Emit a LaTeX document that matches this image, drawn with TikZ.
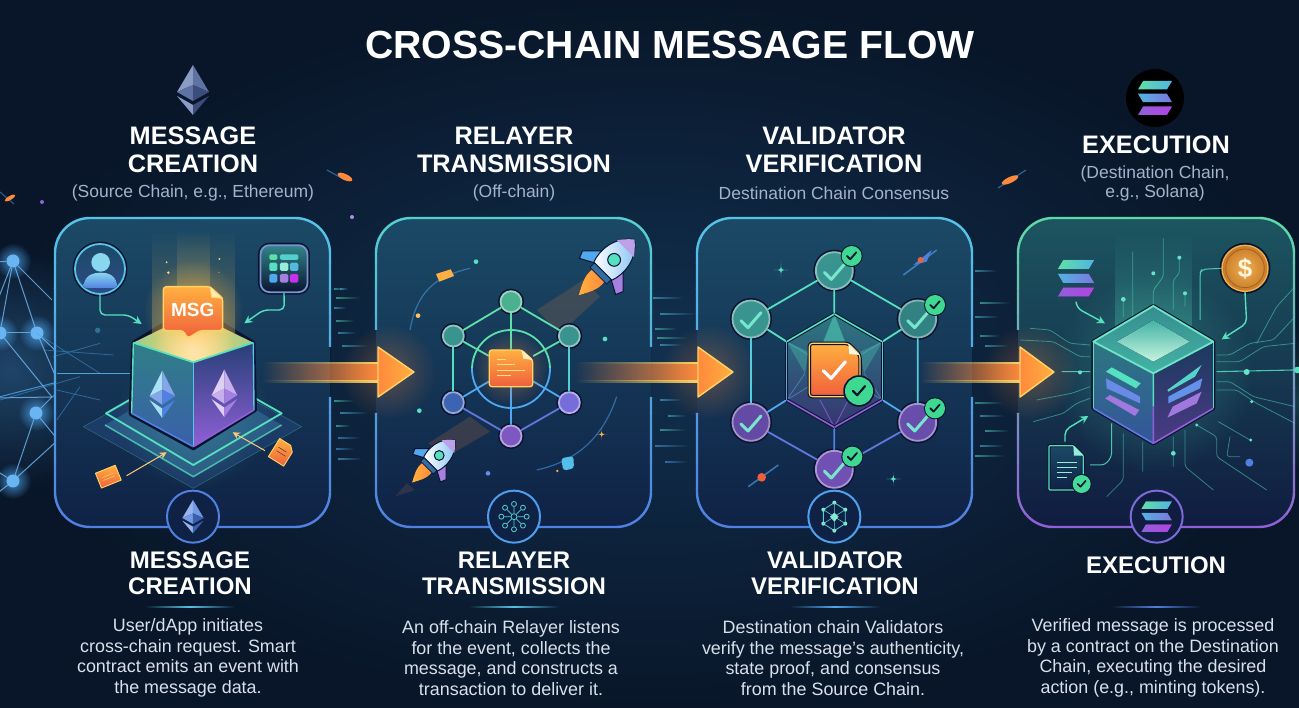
\documentclass[tikz,border=0pt]{standalone}
\usepackage{fontspec}
\setmainfont{Liberation Sans}
\usetikzlibrary{fadings,arrows.meta,calc}
\definecolor{bgmid}{HTML}{11304F}
\definecolor{bgedge}{HTML}{091629}
\definecolor{ink}{HTML}{0A1430}
\definecolor{subtxt}{HTML}{A3B3CB}
\definecolor{desctxt}{HTML}{D8E0EA}
\definecolor{teal}{HTML}{55E0C0}
\definecolor{mint}{HTML}{5FE0A8}
\definecolor{sky}{HTML}{55C4E8}
\definecolor{azure}{HTML}{4FA8F0}
\definecolor{royal}{HTML}{5080E0}
\definecolor{violet}{HTML}{9060D8}
\definecolor{orng}{HTML}{FF8A3C}
\definecolor{ambr}{HTML}{FFB040}
\definecolor{gold}{HTML}{FFD466}
\definecolor{redor}{HTML}{EF5F3C}
\definecolor{okgreen}{HTML}{3FD890}
\definecolor{pA}{HTML}{1B4A66}
\definecolor{pB}{HTML}{0F2246}
\definecolor{pC}{HTML}{1C5560}
\definecolor{pD}{HTML}{101C40}
\definecolor{sA}{HTML}{55C4E8}
\definecolor{sB}{HTML}{55D0D0}
\definecolor{sC}{HTML}{5FD8A8}
\definecolor{ethA}{HTML}{8A9CC4}
\definecolor{ethB}{HTML}{5E73A4}
\definecolor{ethC}{HTML}{3C4C7C}
\definecolor{coinA}{HTML}{F0B050}
\definecolor{coinB}{HTML}{C87A28}
\tikzfading[name=softglow,inner color=transparent!0,outer color=transparent!100]
\tikzfading[name=hedge,left color=transparent!100,right color=transparent!100,middle color=transparent!0]
\tikzset{
  title/.style={font=\bfseries\fontsize{39.2}{44}\selectfont,text=white,inner sep=0},
  head/.style={font=\bfseries\fontsize{25.3}{28}\selectfont,text=white,inner sep=0},
  lowhead/.style={font=\bfseries\fontsize{24}{26}\selectfont,text=white,inner sep=0},
  subhead/.style={font=\fontsize{17.5}{20}\selectfont,text=subtxt,inner sep=0},
  desc/.style={font=\fontsize{17.9}{20.6}\selectfont,text=desctxt,inner sep=0,align=center},
  netnode/.style={circle,minimum size=21pt,inner sep=0,fill=#1,draw=#1!55!white,line width=1.8pt,preaction={draw=ink,line width=5pt}},
  valnode/.style={circle,minimum size=37pt,inner sep=0,fill=#1,draw=#1!60!white,line width=1.8pt,preaction={draw=ink,line width=5pt}},
  badge/.style={circle,minimum size=52pt,inner sep=0,fill=#1,line width=2pt},
  conn/.style={line width=1.8pt,draw=#1},
  trace/.style={line width=.8pt,draw=teal,opacity=.5,rounded corners=3pt},
  flowtip/.style={line width=1.4pt,draw=#1,rounded corners=5pt,-{Stealth[length=8pt,width=8pt]}},
}
\newcommand\glow[4]{\fill[#1,opacity=#4,path fading=softglow] (#2) circle (#3);}
\newcommand\panelbox[7]{% x0 x1 fillTop fillBot strokeTop strokeBot stroke path
  \fill[rounded corners=35pt,top color=#3,bottom color=#4] (#1,218) rectangle (#2,527);
  \foreach \i in {0,...,12}{
    \pgfmathsetmacro\mixv{100*\i/12}
    \begin{scope}
      \clip ({#1-5},{214+\i*25}) rectangle ({#2+5},{239+\i*25});
      \draw[line width=2.4pt,rounded corners=35pt,draw=#6!\mixv!#5] #7;
    \end{scope}}
}
\newcommand\flowarrow[3]{% start base tip
  \fill[orng,opacity=.3,path fading=softglow] ({#2+10},372) circle (48);
  \fill[orng,path fading=west] (#1,364) rectangle ({#2+1},381);
  \fill[gold,path fading=west] (#1,362) rectangle ({#2+1},364.5);
  \fill[gold,path fading=west] (#1,380.5) rectangle ({#2+1},383);
  \fill[left color=orng,right color=ambr,draw=gold,line width=1.4pt,line join=round]
     (#2,363.5) -- (#2,347) -- (#3,372) -- (#2,397) -- (#2,381.5) -- cycle;
}
\newcommand\ethlogo[7]{% x y xs ys light mid dark
  \begin{scope}[shift={(#1,#2)},xscale=#3,yscale=#4]
    \fill[#5] (0,-25) -- (-16,2) -- (0,-5) -- cycle;
    \fill[#6] (0,-25) -- (16,2) -- (0,-5) -- cycle;
    \fill[#6] (-16,2) -- (0,-5) -- (0,11) -- cycle;
    \fill[#7] (16,2) -- (0,-5) -- (0,11) -- cycle;
    \fill[#5] (-16,6) -- (0,15) -- (0,25) -- cycle;
    \fill[#7] (16,6) -- (0,15) -- (0,25) -- cycle;
  \end{scope}}
\newcommand\solana[3]{% x y scale
  \begin{scope}[shift={(#1,#2)},scale=#3]
    \fill[left color=mint,right color=azure!80!mint] (-14,-20) -- (20,-20) -- (14,-10) -- (-20,-10) -- cycle;
    \fill[left color=azure!80!mint,right color=violet!70!azure] (-20,-5) -- (14,-5) -- (20,5) -- (-14,5) -- cycle;
    \fill[left color=violet,right color=violet!70!magenta] (-14,10) -- (20,10) -- (14,20) -- (-20,20) -- cycle;
  \end{scope}}
\newcommand\rocket[4]{% x y rot scale
  \begin{scope}[shift={(#1,#2)},rotate=#3,scale=#4]
    \fill[left color=ambr,right color=orng] (-8,11) .. controls (-10,22) and (-4,30) .. (0,38) .. controls (4,30) and (10,22) .. (8,11) -- cycle;
    \fill[azure,draw=ink,line width=1pt] (-11,-10) -- (-27,6) -- (-24,13) -- (-11,6) -- cycle;
    \fill[violet!80!white,draw=ink,line width=1pt] (11,-10) -- (27,6) -- (24,13) -- (11,6) -- cycle;
    \fill[left color=white,right color=azure!70!white,draw=ink,line width=1pt] (0,-36) .. controls (16,-24) and (16,-5) .. (12,6) -- (-12,6) .. controls (-16,-5) and (-16,-24) .. (0,-36) -- cycle;
    \fill[violet!60!white] (0,-36) .. controls (6,-31) and (9,-27) .. (11,-24) -- (-11,-24) .. controls (-9,-27) and (-6,-31) .. (0,-36) -- cycle;
    \fill[azure!60!ink,draw=ink,line width=.7pt] (-11,6) rectangle (11,12);
    \fill[teal,draw=ink,line width=1pt] (0,-9) circle (6);
  \end{scope}}
\newcommand\ckm[5]{\draw[#4,line width=#5,line cap=round,line join=round] ({#1-#3},{#2}) -- ({#1-.3*#3},{#2+.7*#3}) -- ({#1+#3},{#2-.8*#3});}
\newcommand\sparkle[4]{\fill[#4] (#1,{#2-#3}) .. controls (#1,#2) .. ({#1+#3},#2) .. controls (#1,#2) .. (#1,{#2+#3}) .. controls (#1,#2) .. ({#1-#3},#2) .. controls (#1,#2) .. cycle;}
\begin{document}
\begin{tikzpicture}[x=1pt,y=-1pt,line join=round]
\useasboundingbox (0,0) rectangle (1299,708);
\shade[inner color=bgmid,outer color=bgedge] (0,0) rectangle (1299,708);
% ---------- ambient glows
\glow{azure}{10,370}{120}{.32}
\glow{teal}{1299,400}{70}{.18}
% ---------- left network
\foreach \n/\p in {la/{13,261},lb/{0,333},lc/{37,333},ld/{36,413},le/{13,481}}{
  \glow{azure}{\p}{18}{.8}
  \node[circle,fill=azure!85!white,minimum size=13pt,inner sep=0] (\n) at (\p) {};}
\coordinate (lg) at (-5,398); \coordinate (lh) at (-5,262);
\coordinate (li) at (-5,470); \coordinate (lj) at (55,350); \coordinate (lk) at (52,397);
\coordinate (ll) at (58,440); \coordinate (lm) at (-5,307); \coordinate (ln) at (52,300);
\coordinate (lo) at (85,375); \coordinate (lp) at (-5,495); \coordinate (lq) at (55,375);
\foreach \a/\b in {la/lb,la/lc,lb/lc,la/ln,lc/lj,lb/lk,ld/le,ld/ll,lk/ld,li/le,lg/lk,lh/la,lm/la,lp/le,lc/lq,le/ll}
  \draw[azure!80!white,line width=1pt,opacity=.8] (\a) -- (\b);
\draw[azure,line width=1pt,opacity=.8] (lk) -- (lo) (lg) -- (lo);
% ---------- floating bits outside panels
\draw[azure,line width=1pt,opacity=.5] (0,192) -- (14,204);
\fill[orng,rotate around={30:(10,198)}] (10,198) ellipse (6 and 2);
\draw[azure,line width=1.2pt,opacity=.5] (327,170) -- (345,180);
\fill[orng,rotate around={-25:(345,177)}] (345,177) ellipse (8 and 3);
\fill[violet] (42,202) circle (2);
\fill[violet!70!white] (352,217) circle (2);
\draw[azure,line width=1.2pt,opacity=.5] (998,188) -- (1026,170);
\fill[orng,rotate around={25:(1010,180)}] (1010,180) ellipse (9 and 3);
% speed lines
\foreach \x/\y/\l/\c in {334/288/10/teal,340/288/8/sky,336/297/24/teal,334/307/12/sky,336/320/18/teal,338/332/18/sky,342/345/26/sky,
  334/400/20/teal,340/412/28/sky,336/425/14/teal,338/437/22/azure,336/448/18/azure,338/458/24/sky,
  653/297/30/sky,660/313/36/sky,655/328/22/teal,657/337/30/teal,660/344/22/sky,
  660/399/22/sky,668/415/18/sky,660/429/26/teal,655/445/34/azure,665/461/22/azure,
  975/270/22/sky,980/302/30/teal,975/316/24/sky,980/335/20/teal,985/345/24/sky,
  975/402/28/teal,980/415/24/sky,985/430/24/teal,980/445/24/sky,975/455/30/teal}
  \fill[\c,opacity=.55,path fading=east] (\x,\y) rectangle +(\l,1.6);
% ---------- top text
\node[title] (title) at (670,45) {CROSS-CHAIN MESSAGE FLOW};
\ethlogo{193}{90}{1}{1}{ethA}{ethB}{ethC}
\node[head] (h1a) at (193,136) {MESSAGE};
\node[head] (h1b) at (193,164) {CREATION};
\node[subhead] (s1) at (193,193) {(Source Chain, e.g., Ethereum)};
\node[head] (h2a) at (514,136) {RELAYER};
\node[head] (h2b) at (514,164) {TRANSMISSION};
\node[subhead] (s2) at (514,193) {(Off-chain)};
\node[head] (h3a) at (834,136) {VALIDATOR};
\node[head] (h3b) at (834,164) {VERIFICATION};
\node[subhead] (s3) at (834,193) {Destination Chain Consensus};
\fill[black] (1155,98) circle (29);
\solana{1155}{98}{.85}
\node[head] (h4a) at (1156,145) {EXECUTION};
\node[subhead] (s4a) at (1155,174) {(Destination Chain,};
\node[subhead] (s4b) at (1155,193) {e.g., Solana)};
% ---------- panels
\panelbox{55}{330}{pA}{pB}{sA}{royal}{(55,300) -- (55,527) -- (330,527) -- (330,397) (330,347) -- (330,218) -- (55,218) -- (55,300)}
\panelbox{376}{651}{pA}{pB}{sB}{royal}{(376,413) -- (376,527) -- (651,527) -- (651,397) (651,347) -- (651,218) -- (376,218) -- (376,330)}
\panelbox{697}{972}{pA}{pB}{sA}{royal}{(697,413) -- (697,527) -- (972,527) -- (972,397) (972,347) -- (972,218) -- (697,218) -- (697,330)}
\panelbox{1018}{1294}{pC}{pD}{sC}{violet}{(1018,413) -- (1018,527) -- (1294,527) -- (1294,218) -- (1018,218) -- (1018,330)}

% ========== PANEL 1 (coordinates read from a 3x crop)
\begin{scope}[shift={(0,200)},scale=1/3]
  % network lines reaching into panel
  \draw[azure,line width=.8pt,opacity=.45] (160,470) -- (300,430) (130,450) -- (340,465) (0,600) -- (240,530) (170,570) -- (300,600) (170,660) -- (240,560) (110,400) -- (300,520);
  \draw[sky,line width=1.1pt,opacity=.8] (170,520) -- (390,520);
  \fill[sky,opacity=.4] (293,391) circle (8);
  % platform
  \fill[royal,opacity=.16,draw=teal,draw opacity=.3,line width=.6pt] (580,500) -- (905,680) -- (580,865) -- (250,680) -- cycle;
  \fill[royal!60!teal,opacity=.28] (315,675) -- (580,830) -- (845,675) -- (580,520) -- cycle;
  \draw[teal,line width=1.5pt,opacity=.75] (315,675) -- (580,830) -- (845,675);
  \glow{teal}{580,640}{230}{.25}
  \draw[teal,line width=1.8pt] (318,640) -- (580,795) -- (845,640) -- (580,490) -- cycle;
  % cube
  \fill[ink] (400,428) -- (580,320) -- (760,428) -- (765,630) -- (580,745) -- (392,642) -- cycle;
  \draw[ink,line width=4pt] (400,428) -- (392,642) -- (580,745) -- (765,630) -- (760,428) -- (580,320) -- cycle;
  \fill[top color=pA!65!teal,bottom color=royal!70!ink] (400,428) -- (580,487) -- (580,740) -- (395,640) -- cycle;
  \fill[top color=royal!40!ink,bottom color=violet] (760,428) -- (580,487) -- (580,740) -- (762,630) -- cycle;
  \begin{scope}
    \clip (400,428) -- (580,340) -- (760,428) -- (580,487) -- cycle;
    \fill[left color=teal!60!ambr,right color=teal!60!ambr,middle color=gold] (400,330) rectangle (760,487);
    \glow{white!55!gold}{580,445}{120}{1}
  \end{scope}
  \draw[teal,line width=1.7pt] (400,428) -- (580,487) -- (760,428);
  \draw[sky,line width=1.5pt] (580,487) -- (580,740);
  \draw[teal,line width=1.4pt] (400,428) -- (395,640);
  \draw[royal,line width=1.6pt] (395,640) -- (580,740);
  \draw[violet,line width=1.6pt] (580,740) -- (762,630);
  \draw[sky,line width=1.4pt] (760,428) -- (762,630);
  \ethlogo{487}{583}{2.4}{2.85}{sky!50!white}{royal!70!white}{royal}
  \ethlogo{673}{580}{2.4}{2.85}{violet!30!white}{violet!50!white}{violet!80!white}
  % beam
  \fill[gold,opacity=.3,path fading=north] (455,90) rectangle (705,400);
  \fill[gold,opacity=.3,path fading=north] (530,90) rectangle (630,300);
  \glow{ambr}{580,330}{150}{.55}
  \foreach \x/\y/\r in {500/187/3,505/218/4,658/177/3,657/218/1.5}
    \fill[gold!80!white] (\x,\y) circle (\r);
  % MSG bubble
  \fill[top color=ambr,bottom color=redor,draw=gold,line width=1.4pt,rounded corners=3pt]
     (490,260) -- (630,260) -- (668,295) -- (668,392) -- (600,392) -- (563,415) -- (550,392) -- (490,392) -- cycle;
  \fill[gold!50!white,draw=gold,line width=.8pt] (630,260) -- (635,292) -- (668,295) -- cycle;
  \node[font=\bfseries\fontsize{19}{20}\selectfont,text=white,inner sep=0] (msg) at (578,331) {MSG};
  % user
  \node[circle,minimum size=50pt,inner sep=0,top color=pA,bottom color=royal!50!ink,draw=sky,line width=1.8pt,preaction={draw=ink,line width=5pt}] (user) at (300,207) {};
  \begin{scope}
    \clip (300,207) circle (72);
    \fill[sky!70!white] (302,187) circle (28);
    \fill[top color=sky!70!white,bottom color=royal] (250,265) .. controls (250,225) and (280,218) .. (302,218) .. controls (325,218) and (352,225) .. (352,265) -- cycle;
  \end{scope}
  % app
  \node[rounded corners=9pt,minimum size=47pt,inner sep=0,top color=pA!60!teal,bottom color=ink,draw=violet!60!teal,line width=1.8pt,preaction={draw=ink,line width=5pt}] (app) at (852,206) {};
  \foreach \a/\b/\c/\d/\e in {808/163/832/180/mint,840/163/895/180/teal!70!azure,808/188/832/213/teal,840/188/865/213/teal!60!white,870/188/895/213/azure!70!teal,808/222/832/248/azure,840/222/865/248/violet!80!white,870/222/895/248/violet!50!magenta}
    \fill[\e,rounded corners=1.5pt] (\a,\b) rectangle (\c,\d);
  % arrows
  \coordinate (ua) at (425,372); \coordinate (ab) at (733,370);
  \draw[flowtip=teal] (user.south) -- (300,345) -- (385,345) -- (ua);
  \draw[flowtip=teal] (app.south) -- (853,330) -- (790,330) -- (ab);
  % cards
  \begin{scope}[shift={(325,830)},rotate=22]
    \fill[top color=ambr,bottom color=redor,draw=gold,line width=.9pt] (-32,-24) rectangle (32,24);
    \draw[gold,line width=.5pt] (-18,-4) -- (18,-4) (-18,5) -- (18,5);
  \end{scope}
  \begin{scope}[shift={(845,757)},rotate=-32]
    \fill[top color=ambr,bottom color=redor,draw=gold,line width=.9pt] (-27,-32) -- (12,-32) -- (27,-17) -- (27,32) -- (-27,32) -- cycle;
    \draw[ink!70!redor,line width=.5pt] (-16,-8) -- (12,-8) (-16,4) -- (16,4);
  \end{scope}
  \coordinate (ca) at (500,757); \coordinate (cb) at (698,697);
  \draw[line width=1pt,draw=ambr!70!white,-{Stealth[length=7pt,width=7pt]}] (380,827) -- (ca);
  \draw[line width=1pt,draw=ambr!70!white,-{Stealth[length=7pt,width=7pt]}] (795,752) -- (cb);
  % badge
  \node[badge=pB,draw=royal] (b1) at (579,950) {};
  \ethlogo{579}{950}{2}{2}{royal!60!white}{royal!80!white}{royal!70!ink}
\end{scope}

% ========== PANEL 2
\begin{scope}[shift={(360,200)},scale=1/3]
  \draw[azure,line width=1.2pt,opacity=.5] (150,390) .. controls (170,280) and (220,230) .. (330,205);
  \fill[ambr] (228,222) -- (272,208) -- (282,228) -- (238,245) -- cycle;
  \draw[azure,line width=1.2pt,opacity=.5] (530,810) .. controls (620,790) and (720,740) .. (770,590);
  \fill[sky!80!azure,rounded corners=3pt] (603,775) -- (640,768) -- (642,805) -- (610,812) -- cycle;
  \fill[ambr] (592,813) circle (4);
  \fill[teal] (348,185) circle (7); \fill[ambr!80!white] (174,347) circle (7);
  \fill[teal] (735,417) circle (7); \fill[teal] (178,632) circle (7);
  \fill[royal!90!white] (384,820) circle (7);
  \sparkle{725}{703}{18}{ambr}
  % exhaust streaks
  \fill[orng,opacity=.16] (670,240) -- (720,290) -- (600,400) -- (530,330) -- cycle;
  \fill[orng,opacity=.16] (205,730) -- (260,770) -- (390,695) -- (330,650) -- cycle;
  \fill[orng,opacity=.12] (105,890) -- (140,850) -- (165,870) -- cycle;
  \rocket{742}{200}{-45}{3.2}
  \rocket{222}{782}{-45}{2.45}
  % inner ring
  \node[circle,minimum size=78pt,inner sep=0] (ring) at (453,507) {};
  \begin{scope}
    \clip (300,300) rectangle (600,507);
    \draw[mint,line width=1.8pt] (453,507) circle (117);
  \end{scope}
  \begin{scope}
    \clip (300,507) rectangle (600,700);
    \draw[azure,line width=1.8pt] (453,507) circle (117);
  \end{scope}
  \node[netnode=mint!75!pB] (nt) at (453,305) {};
  \node[netnode=teal!60!pB] (nul) at (280,408) {};
  \node[netnode=teal!60!pB] (nur) at (628,408) {};
  \node[netnode=royal!70!pB] (nll) at (280,608) {};
  \node[netnode=violet!60!royal] (nlr) at (628,608) {};
  \node[netnode=violet!85!pB] (nb) at (453,708) {};
  \node[inner sep=0,minimum width=44pt,minimum height=37pt] (ndoc) at (453,505) {};
  \foreach \a/\b/\c in {nt/nul/mint,nt/nur/mint,nul/nll/teal,nur/nlr/teal!70!azure,nll/nb/royal!70!violet,nlr/nb/royal!70!violet,nt/ndoc/mint,nb/ndoc/azure,nul/ndoc/mint,nur/ndoc/mint,nll/ndoc/azure,nlr/ndoc/azure}
    \draw[conn=\c] (\a) -- (\b);
  \glow{orng}{453,505}{110}{.4}
  \fill[top color=ambr,bottom color=redor,draw=gold,line width=1.3pt,rounded corners=2.5pt] (388,450) -- (485,450) -- (518,480) -- (518,560) -- (388,560) -- cycle;
  \fill[gold!40!white] (485,450) -- (490,476) -- (518,480) -- cycle;
  \foreach \a/\b/\y in {410/437/478,410/465/493,410/495/511,410/452/527}
    \draw[gold!80!white,line width=1pt] (\a,\y) -- (\b,\y);
  % badge
  \node[badge=pB,draw=azure!70!royal] (b2) at (462,950) {};
  \node[circle,minimum size=6pt,inner sep=0,draw=teal!70!azure,line width=.8pt] (bc) at (462,950) {};
  \foreach \q/\ang in {a/90,b/135,c/180,d/225,e/270,f/315,g/0,h/45}{
    \node[circle,minimum size=5pt,inner sep=0,draw=teal!70!azure,line width=.8pt] (bn\q) at ({462+38*cos(\ang)},{950-38*sin(\ang)}) {};
    \draw[teal!70!azure,line width=.8pt] (bc) -- (bn\q);}
\end{scope}

% ========== PANEL 3
\begin{scope}[shift={(680,200)},scale=1/3]
  \sparkle{303}{210}{22}{teal}
  \sparkle{640}{837}{22}{teal}
  \draw[azure,line width=1.6pt,opacity=.6] (670,225) -- (770,150);
  \fill[royal] (700,195) -- (755,150) -- (740,185) -- cycle;
  \fill[redor] (722,180) circle (9);
  \draw[azure,line width=1.6pt,opacity=.6] (205,860) -- (295,795);
  \fill[redor] (245,832) circle (13);
  \node[valnode=teal!60!pB] (vt) at (463,212) {};
  \node[valnode=teal!60!pB] (vul) at (213,357) {};
  \node[valnode=teal!50!pB] (vur) at (713,357) {};
  \node[valnode=violet!65!pB] (vll) at (213,667) {};
  \node[valnode=violet!70!pB] (vlr) at (713,667) {};
  \node[valnode=violet!75!pB] (vb) at (463,808) {};
  \coordinate (hT) at (463,342); \coordinate (hUR) at (607,425); \coordinate (hLR) at (607,600);
  \coordinate (hB) at (463,682); \coordinate (hLL) at (320,600); \coordinate (hUL) at (320,425);
  \foreach \a/\b/\c in {vt/vul/teal,vt/vur/teal,vul/vll/sky!70!teal,vur/vlr/sky!70!teal,vll/vb/royal!75!violet,vlr/vb/royal!75!violet,vt/hT/teal,vb/hB/royal,vul/hUL/teal,vur/hUR/teal,vll/hLL/azure,vlr/hLR/azure}
    \draw[conn=\c] (\a) -- (\b);
  % central hexagon
  \fill[top color=pA!70!teal,bottom color=pB!70!violet] (hT) -- (hUR) -- (hLR) -- (hB) -- (hLL) -- (hUL) -- cycle;
  \fill[teal,opacity=.5] (hT) -- (430,425) -- (495,425) -- cycle;
  \fill[teal,opacity=.28] (hUL) -- (385,455) -- (375,520) -- cycle;
  \fill[teal,opacity=.28] (hUR) -- (540,455) -- (552,520) -- cycle;
  \draw[sky,line width=.8pt,opacity=.45] (hLL) -- (375,520) (hLR) -- (552,520) (hUL) -- (hLR) (hUR) -- (hLL);
  \draw[violet,line width=1pt,opacity=.7] (hB) -- (420,600) (hB) -- (505,600);
  \foreach \a/\b/\c in {hT/hUR/teal,hUR/hLR/sky!70!teal,hLR/hB/violet,hB/hLL/violet,hLL/hUL/sky!70!royal,hUL/hT/teal}{
    \draw[ink,line width=3.6pt] (\a) -- (\b);
    \draw[\c,line width=1.6pt] (\a) -- (\b);}
  % document
  \fill[top color=ambr,bottom color=redor,draw=ink,line width=3.5pt,rounded corners=3pt] (388,430) -- (505,430) -- (540,465) -- (540,590) -- (388,590) -- cycle;
  \draw[gold,line width=1.2pt,rounded corners=3pt] (388,430) -- (505,430) -- (540,465) -- (540,590) -- (388,590) -- cycle;
  \fill[white!85!gold] (505,432) -- (508,462) -- (538,465) -- cycle;
  \ckm{463}{512}{33}{white}{3.2pt}
  \node[circle,minimum size=28pt,inner sep=0,fill=okgreen,preaction={draw=ink,line width=3.5pt}] (vdoc) at (537,573) {};
  \ckm{537}{573}{18}{ink}{2.2pt}
  % checks
  \foreach \x/\y in {463/217,213/362,713/362,213/672,713/672,463/813}{\ckm{\x}{\y}{30}{teal!80!white}{3pt}}
  \foreach \n/\x/\y in {ca/515/168,cb/765/315,cc/765/625,cd/517/770}{
    \node[circle,minimum size=20pt,inner sep=0,fill=okgreen,preaction={draw=ink,line width=2pt}] (\n) at (\x,\y) {};
    \ckm{\x}{\y}{14}{ink}{1.8pt}}
  % badge
  \node[badge=pB,draw=azure!80!royal] (b3) at (463,950) {};
  \foreach \q/\ang in {a/90,b/30,c/-30,d/-90,e/-150,f/150}{
    \coordinate (bh\q) at ({463+38*cos(\ang)},{950-42*sin(\ang)});}
  \draw[teal!70!azure,line width=.8pt] (bha) -- (bhb) -- (bhc) -- (bhd) -- (bhe) -- (bhf) -- cycle;
  \foreach \q in {a,b,c,d,e,f}{\fill[teal!70!white] (bh\q) circle (6);\draw[teal!70!azure,line width=.6pt] (bh\q) -- (463,950);}
  \fill[teal!70!white] (463,938) -- (476,950) -- (463,965) -- (450,950) -- cycle;
\end{scope}

% ========== PANEL 4
\begin{scope}[shift={(1000,60)},scale=1/3]
  \fill[teal,opacity=.28,path fading=north] (345,520) rectangle (575,800);
  \glow{teal}{460,940}{300}{.3}
  \draw[trace] (270,890) -- (240,890) -- (160,845) -- (60,840) (270,980) -- (215,1000) -- (110,1020) (270,1015) -- (230,1030) -- (190,1060) -- (100,1085) (270,855) -- (210,850) -- (150,810) -- (90,805)
    (650,885) -- (690,885) -- (750,850) -- (820,840) -- (885,770) (650,905) -- (720,905) -- (790,860) -- (885,850) (650,965) -- (690,965) -- (760,1010) -- (885,1040) (650,990) -- (710,990) -- (770,1030) -- (885,1090) (885,680) -- (830,740) -- (770,850)
    (398,575) -- (398,800) (370,720) -- (370,770) (490,535) -- (490,650) -- (460,690) -- (460,740) (538,590) -- (538,640) -- (520,660) -- (520,750) (555,700) -- (555,740)
    (370,1120) -- (370,1260) -- (320,1310) (428,1145) -- (428,1235) (520,1130) -- (520,1220) (555,1110) -- (555,1220) -- (640,1290) (590,1095) -- (650,1130) -- (650,1190) -- (800,1290) (655,1085) -- (750,1140) (690,1130) -- (680,1190) -- (720,1190);
  \draw[teal,line width=1.1pt,opacity=.85] (185,935) -- (270,935) (650,935) -- (880,930);
  \foreach \x/\y/\r in {240/937/6,740/936/9,370/718/7,460/640/6,538/593/6,555/700/6,520/1180/7,590/1095/5,755/1025/5,752/1140/5}
    \fill[teal!90!white] (\x,\y) circle (\r);
  \fill[royal] (748,1208) circle (12);
  \fill[teal] (892,930) circle (10);
  % cube
  \coordinate (qT) at (460,738); \coordinate (qL) at (280,845); \coordinate (qR) at (640,845);
  \coordinate (qF) at (460,940); \coordinate (qB) at (460,1150); \coordinate (qBL) at (280,1045); \coordinate (qBR) at (640,1045);
  \draw[ink,line width=4pt] (qT) -- (qR) -- (qBR) -- (qB) -- (qBL) -- (qL) -- cycle;
  \fill[top color=teal!30!pA,bottom color=royal!60!ink] (qL) -- (qF) -- (qB) -- (qBL) -- cycle;
  \fill[top color=pB!85!sky,bottom color=violet!50!ink] (qR) -- (qF) -- (qB) -- (qBR) -- cycle;
  \fill[top color=teal!45!pA,bottom color=teal!70!pA] (qT) -- (qR) -- (qF) -- (qL) -- cycle;
  \fill[top color=teal!70!pA,bottom color=mint!35!white] (460,780) -- (570,845) -- (460,905) -- (350,845) -- cycle;
  \draw[teal!85!white,line width=1.8pt] (qL) -- (qF) -- (qR) -- (qT) -- cycle;
  \draw[teal,line width=1.5pt] (qF) -- (460,1040);
  \draw[violet,line width=1.5pt] (460,1040) -- (qB);
  \draw[teal,line width=1.3pt] (qL) -- (qBL);
  \draw[teal,line width=1.3pt] (qR) -- (qBR);
  \draw[royal!70!violet,line width=1.6pt] (qBL) -- (qB);
  \draw[violet,line width=1.6pt] (qBR) -- (qB);
  % solana bars on left face
  \fill[teal] (318,935) -- (335,922) -- (422,970) -- (408,985) -- cycle;
  \fill[azure!60!violet] (318,955) -- (420,1010) -- (420,1030) -- (320,985) -- cycle;
  \fill[violet!85!white] (315,1015) -- (330,1005) -- (418,1050) -- (405,1068) -- cycle;
  % solana bars on right face
  \fill[teal!80!azure] (502,990) -- (605,915) -- (585,950) -- (505,995) -- cycle;
  \fill[azure!70!violet] (505,1010) -- (607,955) -- (600,985) -- (505,1030) -- cycle;
  \fill[violet!85!white] (502,1073) -- (518,1040) -- (605,995) -- (590,1030) -- cycle;
  % icons
  \solana{228}{655}{2.75}
  \node[circle,minimum size=46pt,inner sep=0,inner color=coinA,outer color=coinB,draw=coinA,line width=1.4pt,preaction={draw=ink,line width=5pt}] (coin) at (735,625) {};
  \draw[coinB!80!black,line width=.8pt] (735,625) circle (58);
  \node[font=\bfseries\fontsize{26}{26}\selectfont,text=white!80!gold,inner sep=0] (dollar) at (735,627) {\$};
  \coordinate (sa) at (315,790); \coordinate (sb) at (228,725); \coordinate (ca) at (665,838); \coordinate (cb) at (265,1068);
  \draw[flowtip=teal] (sb) -- (232,745) -- (sa);
  \draw[flowtip=teal] (coin.south) -- (740,790) -- (ca);
  \draw[flowtip=teal] (195,1145) -- (195,1110) -- (cb);
  \draw[teal,line width=1pt,opacity=.85,rounded corners=4pt] (coin.west) -- (605,628) -- (600,640) -- (600,780);
  \draw[teal,line width=1pt,opacity=.85,rounded corners=4pt] (335,1090) -- (335,1190) -- (315,1215) -- (270,1215);
  % document
  \fill[top color=pA,bottom color=pB,draw=ink,line width=3pt] (147,1157) -- (220,1157) -- (250,1187) -- (250,1290) -- (147,1290) -- cycle;
  \draw[teal,line width=1.2pt,rounded corners=1pt] (147,1157) -- (220,1157) -- (250,1187) -- (250,1290) -- (147,1290) -- cycle;
  \fill[teal!60!white] (220,1157) -- (222,1187) -- (250,1187) -- cycle;
  \foreach \y/\b in {1208/230,1222/230,1238/215,1252/200}{\draw[teal!60!white,line width=.9pt] (170,\y) -- (\b,\y);}
  \node[circle,minimum size=18pt,inner sep=0,fill=okgreen!80!teal,preaction={draw=ink,line width=2pt}] (dchk) at (245,1272) {};
  \ckm{245}{1272}{12}{ink}{1.6pt}
  % badge
  \node[badge=pD,draw=violet!70!royal] (b4) at (470,1370) {};
  \solana{470}{1370}{2.3}
\end{scope}

% ---------- flow arrows
\flowarrow{262}{378}{414}
\flowarrow{575}{698}{733}
\flowarrow{920}{1020}{1054}

% ---------- lower text
\node[lowhead] (l1a) at (190,560) {MESSAGE};
\node[lowhead] (l1b) at (190,586) {CREATION};
\node[lowhead] (l2a) at (514,560) {RELAYER};
\node[lowhead] (l2b) at (514,586) {TRANSMISSION};
\node[lowhead] (l3a) at (835,560) {VALIDATOR};
\node[lowhead] (l3b) at (835,586) {VERIFICATION};
\node[lowhead] (l4a) at (1156,565) {EXECUTION};
\foreach \c/\col in {190/sky,514/sky,835/azure,1156/royal}
  \fill[\col,path fading=hedge] ({\c-45},606) rectangle ({\c+45},608.4);
\node[desc] (d1) at (188,658) {User/dApp initiates\\cross-chain request. Smart\\contract emits an event with\\the message data.};
\node[desc] (d2) at (511,658) {An off-chain Relayer listens\\for the event, collects the\\message, and constructs a\\transaction to deliver it.};
\node[desc] (d3) at (833,658) {Destination chain Validators\\verify the message's authenticity,\\state proof, and consensus\\from the Source Chain.};
\node[desc] (d4) at (1153,658) {Verified message is processed\\by a contract on the Destination\\Chain, executing the desired\\action (e.g., minting tokens).};
\end{tikzpicture}
\end{document}
